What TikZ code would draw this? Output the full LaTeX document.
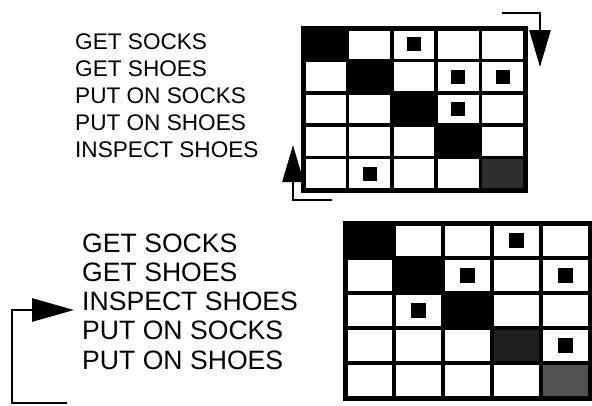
\documentclass[tikz,border=0pt]{standalone}
\usepackage{fontspec}
\setmainfont{Liberation Sans}
\usetikzlibrary{arrows.meta}
\begin{document}
\begin{tikzpicture}[x=1pt,y=-1pt,
  cellline/.style={line width=3.5pt},
  frame/.style={line width=5pt},
  lbltop/.style={anchor=west,inner sep=0pt,font=\fontsize{22.6}{25}\selectfont},
  lblbot/.style={anchor=west,inner sep=0pt,font=\fontsize{26.6}{29}\selectfont},
  flow/.style={line width=2.8pt,-{Triangle[length=37pt,width=21pt]}},
  flowb/.style={line width=2.8pt,-{Triangle[length=42pt,width=23pt]}}]
\useasboundingbox (0,0) rectangle (592,405);
% ---------- top matrix ----------
\def\tx{303}\def\ty{28}\def\tw{44.4}\def\th{32.4}
\foreach \i in {0,...,3}
  \fill ({\tx+\i*\tw},{\ty+\i*\th}) rectangle ++(\tw,\th);
\fill[black!82] ({\tx+4*\tw},{\ty+4*\th}) rectangle ++(\tw,\th);
\foreach \c/\r in {2/0,3/1,4/1,3/2,1/4}
  \fill ({\tx+(\c+0.5)*\tw-7},{\ty+(\r+0.5)*\th-7}) rectangle ++(14,14);
\foreach \i in {1,...,4}{
  \draw[cellline] ({\tx+\i*\tw},\ty) -- ++(0,{5*\th});
  \draw[cellline] (\tx,{\ty+\i*\th}) -- ++({5*\tw},0);
}
\draw[frame] (\tx,\ty) rectangle ++({5*\tw},{5*\th});
% ---------- bottom matrix ----------
\def\bx{345}\def\by{223}\def\bw{49}\def\bh{35}
\foreach \i in {0,...,2}
  \fill ({\bx+\i*\bw},{\by+\i*\bh}) rectangle ++(\bw,\bh);
\fill[black!88] ({\bx+3*\bw},{\by+3*\bh}) rectangle ++(\bw,\bh);
\fill[black!68] ({\bx+4*\bw},{\by+4*\bh}) rectangle ++(\bw,\bh);
\foreach \c/\r in {3/0,2/1,4/1,1/2,4/3}
  \fill ({\bx+(\c+0.5)*\bw-7.5},{\by+(\r+0.5)*\bh-7.5}) rectangle ++(15,15);
\foreach \i in {1,...,4}{
  \draw[cellline] ({\bx+\i*\bw},\by) -- ++(0,{5*\bh});
  \draw[cellline] (\bx,{\by+\i*\bh}) -- ++({5*\bw},0);
}
\draw[frame] (\bx,\by) rectangle ++({5*\bw},{5*\bh});
% ---------- labels ----------
\node[lbltop] (t1) at (75,42)  {GET SOCKS};
\node[lbltop] (t2) at (75,69)  {GET SHOES};
\node[lbltop] (t3) at (75,96)  {PUT ON SOCKS};
\node[lbltop] (t4) at (75,123) {PUT ON SHOES};
\node[lbltop] (t5) at (75,150) {INSPECT SHOES};
\node[lblbot] (b1) at (82,243)   {GET SOCKS};
\node[lblbot] (b2) at (82,272.3) {GET SHOES};
\node[lblbot] (b3) at (82,301.5) {INSPECT SHOES};
\node[lblbot] (b4) at (82,330.8) {PUT ON SOCKS};
\node[lblbot] (b5) at (82,360)   {PUT ON SHOES};
% ---------- arrows ----------
\coordinate (a1s) at (502,13);
\coordinate (a1e) at (540,67);
\draw[flow] (a1s) -| (a1e);
\coordinate (a2s) at (332,200);
\coordinate (a2e) at (293,145);
\draw[flow] (a2s) -| (a2e);
\coordinate (a3s) at (67,403);
\coordinate (a3m) at (12,310);
\coordinate (a3e) at (74,310);
\draw[flowb] (a3s) -| (a3m) -- (a3e);
\end{tikzpicture}
\end{document}
